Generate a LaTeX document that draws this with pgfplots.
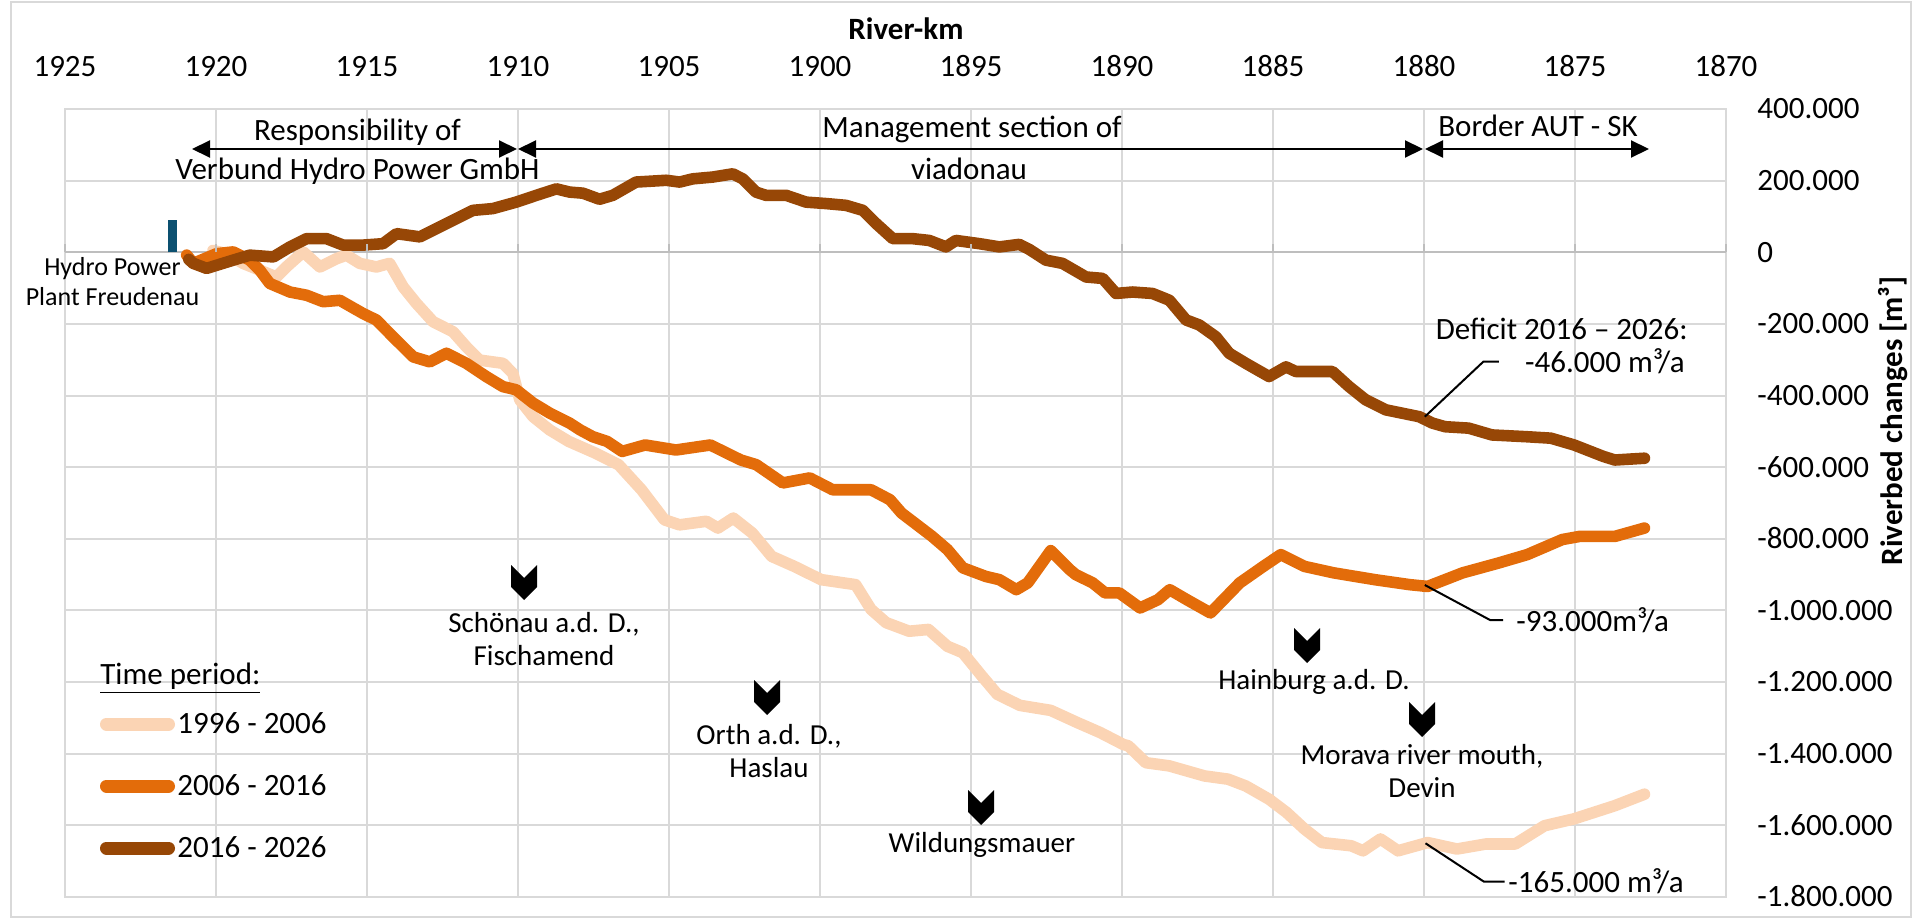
\documentclass[border=0pt]{standalone}
\usepackage{fontspec}
\setmainfont{Carlito}
\usepackage{pgfplots}
\usepackage{pgfplotstable}
\pgfplotsset{compat=1.18}
\usetikzlibrary{arrows.meta}

\definecolor{cLight}{RGB}{251,212,180}
\definecolor{cOrange}{RGB}{227,108,10}
\definecolor{cDark}{RGB}{151,71,6}
\definecolor{cBlue}{RGB}{12,80,112}
\definecolor{cGrid}{RGB}{217,217,217}
\definecolor{cZero}{RGB}{190,190,190}

% values in 1000 m^3, x = river-km
\pgfplotstableread{
km v
1920.10 5
1919.65 -4
1919.10 -31
1918.55 -50
1918.00 -69
1917.67 -41
1917.11 1
1916.56 -41
1916.01 -18
1915.68 -8
1915.24 -31
1914.69 -41
1914.25 -31
1913.80 -97
1913.36 -143
1912.81 -194
1912.15 -222
1911.71 -264
1911.27 -301
1910.50 -310
1910.17 -338
1909.94 -412
1909.50 -459
1908.95 -496
1908.32 -528
1907.43 -561
1906.67 -593
1905.91 -663
1905.15 -747
1904.65 -761
1903.76 -751
1903.38 -770
1902.87 -742
1902.24 -784
1901.60 -849
1900.85 -877
1899.96 -914
1898.82 -928
1898.31 -997
1897.81 -1034
1897.05 -1058
1896.41 -1053
1895.78 -1100
1895.27 -1118
1894.64 -1183
1894.13 -1234
1893.38 -1265
1892.36 -1279
1891.48 -1313
1890.72 -1341
1889.96 -1374
1889.79 -1378
1889.21 -1425
1888.43 -1434
1887.27 -1462
1886.49 -1471
1885.90 -1490
1885.13 -1527
1884.55 -1564
1883.96 -1610
1883.38 -1648
1882.41 -1657
1882.02 -1671
1881.44 -1638
1880.86 -1671
1879.88 -1648
1878.91 -1666
1877.95 -1652
1876.98 -1652
1876.01 -1601
1875.04 -1582
1873.68 -1545
1872.70 -1513
}\tabLight

\pgfplotstableread{
km v
1920.97 -8
1920.75 -31
1919.98 -4
1919.43 1
1918.88 -22
1918.55 -50
1918.22 -87
1917.55 -111
1917.00 -120
1916.45 -138
1915.90 -134
1915.13 -171
1914.69 -189
1914.14 -236
1913.47 -292
1912.92 -306
1912.37 -282
1911.71 -310
1911.05 -347
1910.50 -375
1910.06 -384
1909.50 -421
1908.95 -449
1908.29 -477
1907.94 -496
1907.52 -515
1907.05 -528
1906.55 -556
1905.79 -538
1904.77 -552
1903.63 -538
1902.62 -580
1902.11 -593
1901.23 -644
1900.34 -630
1899.58 -663
1898.31 -663
1897.68 -691
1897.30 -728
1896.29 -793
1895.78 -830
1895.27 -881
1894.51 -905
1894.06 -914
1893.50 -942
1893.12 -923
1892.36 -833
1891.73 -886
1891.53 -900
1890.97 -923
1890.56 -951
1890.09 -951
1889.40 -993
1888.81 -970
1888.42 -942
1887.85 -970
1887.07 -1007
1886.10 -923
1885.32 -877
1884.74 -844
1883.96 -877
1882.99 -895
1881.63 -914
1880.47 -928
1879.88 -933
1878.72 -895
1877.55 -868
1876.58 -844
1875.42 -802
1874.83 -793
1873.67 -793
1872.70 -770
}\tabOrange

\pgfplotstableread{
km v
1920.90 -20
1920.75 -31
1920.31 -45
1919.43 -22
1918.88 -8
1918.10 -13
1917.55 15
1917.00 38
1916.34 38
1915.79 20
1915.13 20
1914.47 24
1914.02 52
1913.25 43
1912.70 66
1912.04 94
1911.49 117
1910.83 122
1910.06 140
1909.39 159
1908.73 177
1908.29 168
1907.85 165
1907.30 148
1906.86 159
1906.09 196
1905.09 201
1904.65 196
1904.21 205
1903.55 210
1902.89 219
1902.56 205
1902.12 168
1901.79 159
1901.12 159
1900.46 140
1899.80 136
1899.14 131
1898.58 117
1898.14 80
1897.59 38
1896.93 38
1896.38 33
1895.83 15
1895.50 33
1894.72 24
1894.06 15
1893.40 22
1893.07 8
1892.52 -22
1891.97 -31
1891.19 -69
1890.64 -73
1890.20 -115
1889.65 -111
1888.99 -115
1888.43 -134
1887.88 -189
1887.44 -203
1886.89 -236
1886.45 -282
1885.90 -310
1885.13 -347
1884.57 -320
1884.24 -333
1883.03 -333
1882.48 -375
1881.93 -412
1881.26 -440
1880.16 -459
1879.72 -477
1879.30 -487
1878.52 -491
1877.75 -510
1876.59 -515
1875.80 -519
1875.03 -538
1874.06 -570
1873.68 -580
1872.70 -575
}\tabDark

\tikzset{
  tl/.style={font=\fontsize{15.5}{18}\selectfont, inner sep=0pt, text height=9.9pt, text depth=0pt},
  tm/.style={font=\fontsize{14.5}{17}\selectfont, inner sep=0pt, text height=9.3pt, text depth=0pt},
  ts/.style={font=\fontsize{13}{15}\selectfont, inner sep=0pt, text height=8.3pt, text depth=0pt},
}
\newcommand{\chev}[2]{\fill[black] (#1-13,#2) -- (#1,#2+13) -- (#1+13,#2) -- (#1+13,#2+22) -- (#1,#2+35) -- (#1-13,#2+22) -- cycle;}

\begin{document}
\begin{tikzpicture}
\path (0,0) rectangle (960pt,461.5pt);
\begin{axis}[
  at={(32.5pt,13pt)}, anchor=south west,
  scale only axis, width=830.5pt, height=394pt,
  x dir=reverse, xmin=1870, xmax=1925, ymin=-1800, ymax=400,
  xtick={1870,1875,1880,1885,1890,1895,1900,1905,1910,1915,1920,1925},
  xticklabels={1870,1875,1880,1885,1890,1895,1900,1905,1910,1915,1920,1925},
  ytick={-1800,-1600,-1400,-1200,-1000,-800,-600,-400,-200,0,200,400},
  yticklabels={-1.800.000,-1.600.000,-1.400.000,-1.200.000,-1.000.000,-800.000,-600.000,-400.000,-200.000,0,200.000,400.000},
  xticklabel pos=upper, yticklabel pos=upper,
  grid=major, major grid style={draw=cGrid, line width=1pt},
  axis line style={draw=cGrid, line width=1pt},
  major tick length=0pt, tick style={draw=none},
  xticklabel style={anchor=center, tl}, xticklabel shift=21pt,
  yticklabel style={anchor=west, tl}, yticklabel shift=15.5pt,
  clip=false,
]
\draw[cZero, line width=1pt] (axis cs:1925,0) -- (axis cs:1870,0);
\addplot[cBlue, line width=4.5pt, line cap=butt] coordinates {(1921.43,0) (1921.43,89)};
\addplot[cLight, line width=5.8pt, line cap=round, line join=round] table[x=km,y=v]{\tabLight};
\addplot[cOrange, line width=5.8pt, line cap=round, line join=round] table[x=km,y=v]{\tabOrange};
\addplot[cDark, line width=5.8pt, line cap=round, line join=round] table[x=km,y=v]{\tabDark};
\end{axis}

\begin{scope}[shift={(0pt,461.5pt)}, x=0.5pt, y=-0.5pt]
  % outer frame
  \draw[cGrid, line width=1pt] (11,2.5) rectangle (1911,917);
  % small ticks on zero line
  \foreach \i in {0,...,11} {\draw[cZero, line width=1pt] (65+151*\i,252) -- (65+151*\i,244);}
  % title
  \node[tl, font=\fontsize{15.5}{18}\selectfont\bfseries] at (906,30) {River-km};
  \node[tl, font=\fontsize{15.5}{18}\selectfont\bfseries, rotate=90] at (1893,421) {Riverbed changes [m³]};
  % section arrows
  \draw[line width=1pt, {Triangle[length=9pt,width=8.5pt]}-{Triangle[length=9pt,width=8.5pt]}] (192,149) -- (517,149);
  \draw[line width=1pt, {Triangle[length=9pt,width=8.5pt]}-{Triangle[length=9pt,width=8.5pt]}] (518,149) -- (1423,149);
  \draw[line width=1pt, {Triangle[length=9pt,width=8.5pt]}-{Triangle[length=9pt,width=8.5pt]}] (1425,149) -- (1649,149);
  \node[tl] at (357.5,131) {Responsibility of};
  \node[tl] at (357.5,170) {Verbund Hydro Power GmbH};
  \node[tl] at (972,128) {Management section of};
  \node[tl] at (969,170) {viadonau};
  \node[tl] at (1538,127) {Border AUT - SK};
  % hydro power plant
  \node[ts] at (112.5,267) {Hydro Power};
  \node[ts] at (112.5,297) {Plant Freudenau};
  % places
  \chev{524}{565}
  \node[tm] at (544,623) {Schönau a.d. D.,};
  \node[tm] at (544,656) {Fischamend};
  \chev{767}{680}
  \node[tm] at (769,735) {Orth a.d. D.,};
  \node[tm] at (769,768) {Haslau};
  \chev{981}{790}
  \node[tm] at (982,843) {Wildungsmauer};
  \chev{1307}{628}
  \node[tm] at (1314,680) {Hainburg a.d. D.};
  \chev{1422}{702}
  \node[tm] at (1422,755) {Morava river mouth,};
  \node[tm] at (1422,788) {Devin};
  % deficits
  \draw[line width=1pt] (1424.8,416.7) -- (1483.3,361.7) -- (1498.8,361.7);
  \node[tl, anchor=east] at (1688,330) {Deficit 2016 – 2026:};
  \node[tl, anchor=east] at (1685,363) {-46.000 m³/a};
  \draw[line width=1pt] (1424.8,585) -- (1490,620) -- (1503,620);
  \node[tl, anchor=west] at (1516,622) {-93.000m³/a};
  \draw[line width=1pt] (1425.5,843.3) -- (1484,881.7) -- (1504.7,881.7);
  \node[tl, anchor=west] at (1508,883) {-165.000 m³/a};
  % legend
  \node[tl, anchor=west] at (100,675) {\underline{Time period:}};
  \draw[cLight, line width=6.5pt, line cap=round] (106.5,724) -- (168.5,724);
  \draw[cOrange, line width=6.5pt, line cap=round] (106.5,786) -- (168.5,786);
  \draw[cDark, line width=6.5pt, line cap=round] (106.5,848) -- (168.5,848);
  \node[tl, anchor=west] at (177,724) {1996 - 2006};
  \node[tl, anchor=west] at (177,786) {2006 - 2016};
  \node[tl, anchor=west] at (177,848) {2016 - 2026};
\end{scope}
\end{tikzpicture}
\end{document}
